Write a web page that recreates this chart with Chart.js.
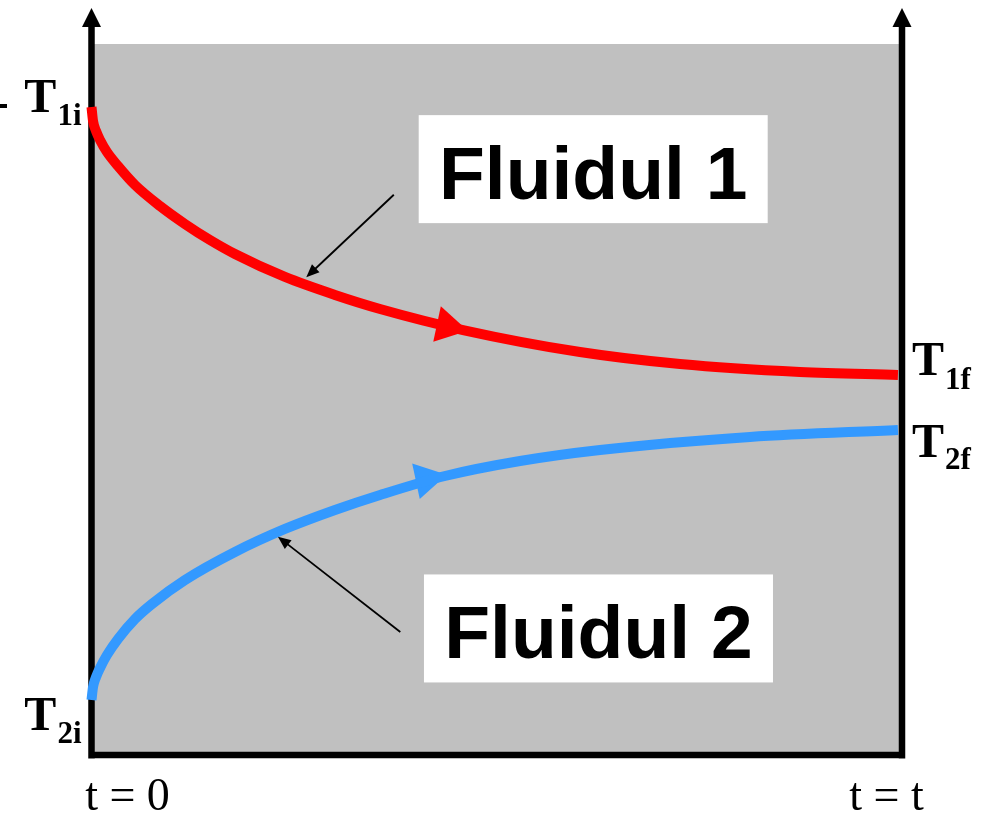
<!DOCTYPE html>
<html>
<head>
<meta charset="utf-8">
<script src="https://cdn.jsdelivr.net/npm/chart.js@4.4.1/dist/chart.umd.min.js"></script>
<style>
  body { margin: 0; background: #fff; }
  #wrap { width: 994px; height: 816px; }
</style>
</head>
<body>
<div id="wrap"><canvas id="schimbator"></canvas></div>
<script>
// Fluidul 1 (cald) - timp normalizat / temperatura (0..100)
const fluid1Time = [0, 0.0019, 0.0056, 0.0105, 0.0191, 0.0327, 0.0537, 0.0845, 0.1154, 0.1462, 0.177, 0.2387, 0.3004, 0.356, 0.4584, 0.6027, 0.7261, 0.8741, 0.995];
const fluid1Temp = [91.14, 89.17, 87.76, 86.5, 84.81, 82.84, 80.17, 77.22, 74.68, 72.43, 70.46, 67.23, 64.7, 62.73, 59.77, 56.68, 54.99, 53.87, 53.45];
// Fluidul 2 (rece)
const fluid2Time = [0, 0.0019, 0.0056, 0.0105, 0.0191, 0.0327, 0.0537, 0.0746, 0.1154, 0.177, 0.2387, 0.3004, 0.356, 0.4361, 0.5287, 0.6274, 0.8125, 0.995];
const fluid2Temp = [7.74, 9.56, 10.97, 12.24, 14.06, 16.32, 19.13, 21.24, 24.61, 28.55, 31.79, 34.46, 36.57, 39.24, 41.35, 42.9, 44.73, 45.71];

// sagetile de sens pe curbe
const flowArrow1 = [{ x: 0.439, y: 60.3 }];
const flowArrow2 = [{ x: 0.413, y: 38.8 }];

const boxLabels = ['Fluidul 1', 'Fluidul 2'];
// centrul casetei (timp, temperatura)
const boxCenters = [[0.619, 82.4], [0.6255, 17.8]];
// sageti de legatura: [de la, la]
const pointerLines = [[[0.373, 78.8], [0.265, 67.2]], [[0.381, 17.3], [0.230, 30.7]]];

const tempSubs = ['1i', '2i', '1f', '2f'];
const timeLabels = ['t = 0', 't = t'];

const zip = (xs, ys) => xs.map((x, i) => ({ x: x, y: ys[i] }));

function arrowHead(ctx, x1, y1, x2, y2, len, half) {
    const a = Math.atan2(y2 - y1, x2 - x1);
    ctx.beginPath();
    ctx.moveTo(x2, y2);
    ctx.lineTo(x2 - len * Math.cos(a) + half * Math.sin(a), y2 - len * Math.sin(a) - half * Math.cos(a));
    ctx.lineTo(x2 - len * Math.cos(a) - half * Math.sin(a), y2 - len * Math.sin(a) + half * Math.cos(a));
    ctx.closePath();
    ctx.fill();
}

function tLabel(ctx, sub, x, y, subDy, alignRight) {
    ctx.font = 'bold 48px "Liberation Serif"';
    const wT = ctx.measureText('T').width;
    ctx.font = 'bold 31px "Liberation Serif"';
    const wS = ctx.measureText(sub).width;
    const x0 = alignRight ? x - wT - wS : x;
    ctx.textAlign = 'left';
    ctx.textBaseline = 'alphabetic';
    ctx.font = 'bold 48px "Liberation Serif"';
    ctx.fillText('T', x0, y);
    ctx.font = 'bold 31px "Liberation Serif"';
    ctx.fillText(sub, x0 + wT + 1, y + subDy);
}

const diagram = {
    id: 'diagram',
    beforeDraw(chart) {
        const { ctx, chartArea: a } = chart;
        ctx.save();
        ctx.fillStyle = '#c0c0c0';
        ctx.fillRect(a.left, a.top, a.right - a.left, a.bottom - a.top);
        ctx.restore();
    },
    beforeDatasetsDraw(chart) {
        const { ctx, chartArea: a } = chart;
        ctx.save();
        ctx.strokeStyle = '#000';
        ctx.fillStyle = '#000';
        ctx.lineWidth = 6.5;
        ctx.lineCap = 'butt';
        ctx.beginPath();
        ctx.moveTo(a.left, 24);
        ctx.lineTo(a.left, a.bottom + 3.5);
        ctx.moveTo(a.left - 3, a.bottom);
        ctx.lineTo(a.right + 3, a.bottom);
        ctx.moveTo(a.right, a.bottom + 3.5);
        ctx.lineTo(a.right, 24);
        ctx.stroke();
        [a.left, a.right].forEach(x => {
            ctx.beginPath();
            ctx.moveTo(x, 8);
            ctx.lineTo(x + 9.5, 27);
            ctx.lineTo(x - 9.5, 27);
            ctx.closePath();
            ctx.fill();
        });
        // mic semn la stanga
        ctx.fillRect(0, 104, 7, 4);
        ctx.restore();
    },
    afterDatasetsDraw(chart) {
        const { ctx, chartArea: a } = chart;
        const xs = chart.scales.x, ys = chart.scales.y;
        ctx.save();
        // casete
        boxLabels.forEach((txt, i) => {
            const cx = xs.getPixelForValue(boxCenters[i][0]);
            const cy = ys.getPixelForValue(boxCenters[i][1]);
            ctx.fillStyle = '#fff';
            ctx.fillRect(cx - 174.5, cy - 54, 349, 108);
            ctx.fillStyle = '#000';
            ctx.font = 'bold 75px "Liberation Sans"';
            ctx.textAlign = 'center';
            ctx.textBaseline = 'alphabetic';
            ctx.fillText(txt, cx, cy + 29.5);
        });
        // sageti subtiri
        ctx.strokeStyle = '#000';
        ctx.fillStyle = '#000';
        ctx.lineWidth = 1.8;
        pointerLines.forEach(p => {
            const x1 = xs.getPixelForValue(p[0][0]), y1 = ys.getPixelForValue(p[0][1]);
            const x2 = xs.getPixelForValue(p[1][0]), y2 = ys.getPixelForValue(p[1][1]);
            const ang = Math.atan2(y2 - y1, x2 - x1);
            ctx.beginPath();
            ctx.moveTo(x1, y1);
            ctx.lineTo(x2 - 8 * Math.cos(ang), y2 - 8 * Math.sin(ang));
            ctx.stroke();
            arrowHead(ctx, x1, y1, x2, y2, 13, 5.5);
        });
        // etichete temperatura
        ctx.fillStyle = '#000';
        const n1 = fluid1Temp.length - 1, n2 = fluid2Temp.length - 1;
        tLabel(ctx, tempSubs[0], a.left - 11, ys.getPixelForValue(fluid1Temp[0]) + 5, 13, true);
        tLabel(ctx, tempSubs[1], a.left - 11, ys.getPixelForValue(fluid2Temp[0]) + 30, 13, true);
        tLabel(ctx, tempSubs[2], a.right + 10, ys.getPixelForValue(fluid1Temp[n1]), 14, false);
        tLabel(ctx, tempSubs[3], a.right + 10, ys.getPixelForValue(fluid2Temp[n2]) + 27, 12, false);
        // etichete timp
        ctx.font = '46px "Liberation Serif"';
        ctx.textAlign = 'center';
        ctx.textBaseline = 'alphabetic';
        ctx.fillText(timeLabels[0], xs.getPixelForValue(0) + 36, 810);
        ctx.fillText(timeLabels[1], xs.getPixelForValue(1) - 15.5, 810);
        ctx.restore();
    }
};

new Chart(document.getElementById('schimbator'), {
    type: 'line',
    data: {
        datasets: [
            {
                label: 'Fluidul 1',
                data: zip(fluid1Time, fluid1Temp),
                borderColor: '#ff0000',
                borderWidth: 10,
                borderCapStyle: 'butt',
                pointRadius: 0,
                cubicInterpolationMode: 'monotone',
                clip: false,
            },
            {
                label: 'Fluidul 2',
                data: zip(fluid2Time, fluid2Temp),
                borderColor: '#3399ff',
                borderWidth: 10,
                borderCapStyle: 'butt',
                pointRadius: 0,
                cubicInterpolationMode: 'monotone',
                clip: false,
            },
            {
                label: 'sens 1',
                data: flowArrow1,
                showLine: false,
                pointStyle: 'triangle',
                pointRadius: 21,
                rotation: 102,
                backgroundColor: '#ff0000',
                borderWidth: 0,
                clip: false,
            },
            {
                label: 'sens 2',
                data: flowArrow2,
                showLine: false,
                pointStyle: 'triangle',
                pointRadius: 21,
                rotation: 78,
                backgroundColor: '#3399ff',
                borderWidth: 0,
                clip: false,
            },
        ],
    },
    options: {
        responsive: true,
        maintainAspectRatio: false,
        animation: false,
        events: [],
        layout: { padding: { left: 91.5, right: 92, top: 44, bottom: 61 } },
        plugins: {
            legend: { display: false },
            tooltip: { enabled: false },
        },
        scales: {
            x: { type: 'linear', min: 0, max: 1, display: false },
            y: { min: 0, max: 100, display: false },
        },
    },
    plugins: [diagram],
});
</script>
</body>
</html>
